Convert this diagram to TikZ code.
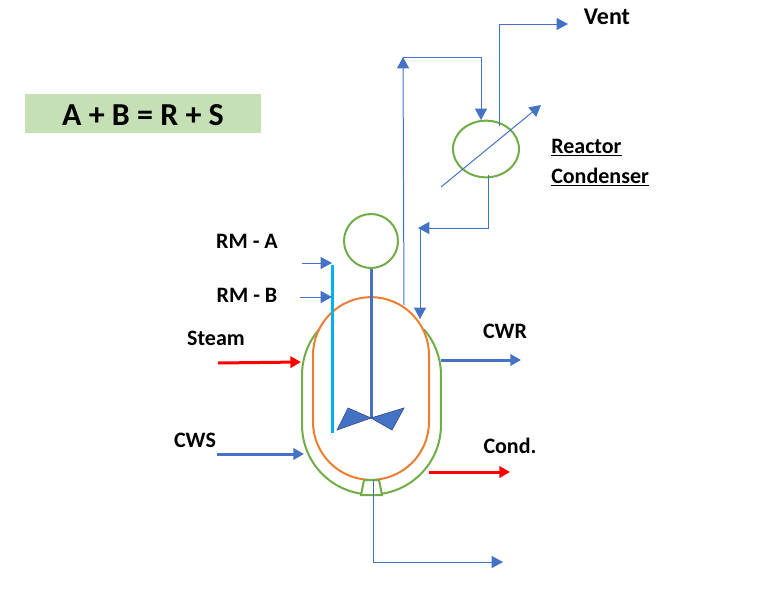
\documentclass[tikz,border=0pt]{standalone}
\usepackage{fontspec}
\setmainfont{Carlito}
\usetikzlibrary{arrows.meta,shapes.geometric}
\definecolor{pipeblue}{HTML}{4472C4}
\definecolor{shellgreen}{HTML}{70AD47}
\definecolor{jacketorange}{HTML}{ED7D31}
\definecolor{feedcyan}{HTML}{00B0F0}
\definecolor{boxgreen}{HTML}{C5E0B4}

\begin{document}
\begin{tikzpicture}[
  x=0.75pt, y=-0.75pt,
  font=\bfseries\fontsize{16.5}{19}\selectfont,
  label/.style = {inner sep=0pt, text=black},
  pipe/.style = {-{Triangle[length=8.5pt,width=9pt]}, draw=pipeblue, line width=0.75pt},
  utility/.style = {-{Triangle[length=8pt,width=8.5pt]}, draw=pipeblue, line width=2.25pt},
  hotline/.style = {-{Triangle[length=8pt,width=8.5pt]}, draw=red, line width=2.25pt},
  vessel/.style = {draw=shellgreen, line width=1.5pt},
  blade/.style = {fill=pipeblue, draw=pipeblue!70!black, line width=0.5pt},
]
  \useasboundingbox (0,0) rectangle (764,596);

  % reaction box
  \node[fill=boxgreen, minimum width=177pt, minimum height=29.5pt, inner sep=0pt,
    font=\bfseries\fontsize{24}{28}\selectfont, text depth=0pt, text height=18pt] (reaction) at (143,113.5) {A + B = R + S};

  % outer shell, jacket and bottom nozzle
  \draw[vessel] (371.5,375) ++(139:52.1pt) coordinate (shellL)
    arc[start angle=139, end angle=180, radius=52.1pt]
    -- ++(0,50) coordinate (shellLow)
    arc[start angle=180, end angle=360, radius=52.1pt]
    -- ++(0,-50)
    arc[start angle=0, end angle=41, radius=52.1pt];
  \node[draw=jacketorange, line width=1.5pt, rectangle, rounded corners=43.5pt,
    minimum width=87pt, minimum height=137pt, inner sep=0pt] (jacket) at (371,388.5) {};
  \draw[vessel, fill=white] (364,480) -- (379,480) -- (382,495) -- (361,495) -- cycle;

  % motor and condenser
  \node[circle, vessel, minimum size=40.5pt, inner sep=0pt] (motor) at (371,241) {};
  \node[ellipse, vessel, minimum width=49.5pt, minimum height=42.5pt, inner sep=0pt] (condenser) at (486,149) {};

  % agitator
  \coordinate (hub) at (371,418);
  \draw[draw=pipeblue, line width=2.25pt] (motor.south) -- (hub);
  \draw[blade] (hub) -- (348,408) -- (337,430) -- cycle;
  \draw[blade] (hub) -- (404,408) -- (392,430) -- cycle;

  % dip pipe
  \coordinate (dipTop) at (332,265);
  \coordinate (dipEnd) at (332,433);
  \draw[draw=feedcyan, line width=2.25pt] (dipTop) -- (dipEnd);

  % labels
  \node[label] (rma) at (247,241) {RM - A};
  \node[label] (rmb) at (247,295) {RM - B};
  \node[label] (steam) at (216,338) {Steam};
  \node[label] (cws) at (195,440) {CWS};
  \node[label] (cwr) at (505,331) {CWR};
  \node[label] (cond) at (510,446) {Cond.};
  \node[label, font=\bfseries\fontsize{18}{20}\selectfont] (vent) at (607,17) {Vent};
  \node[label, anchor=west] (reactor) at (551,148) {\underline{Reactor}};
  \node[label, anchor=west] (condname) at (551,177) {\underline{Condenser}};

  % free ends of the lines
  \coordinate (rmaIn) at (302,263);
  \coordinate (rmaEnd) at (332,263);
  \coordinate (rmbIn) at (300,297);
  \coordinate (rmbEnd) at (332,297);
  \coordinate (steamIn) at (218,363);
  \coordinate (steamEnd) at (301,362);
  \coordinate (cwsIn) at (217,454);
  \coordinate (cwsEnd) at (304,454);
  \coordinate (cwrOut) at (441,360);
  \coordinate (cwrEnd) at (521,360);
  \coordinate (condOut) at (429,472);
  \coordinate (condEnd) at (510,472);
  \coordinate (drain) at (373,480);
  \coordinate (drainTurn) at (373,562);
  \coordinate (drainEnd) at (503,562);
  \coordinate (vapourOut) at (404,305);
  \coordinate (vapourTop) at (403,57);
  \coordinate (vapourTurn) at (481,57);
  \coordinate (vapourEnd) at (481,120);
  \coordinate (ventOut) at (499,126);
  \coordinate (ventTurn) at (499,24);
  \coordinate (ventEnd) at (568,24);
  \coordinate (refluxOut) at (488,175);
  \coordinate (refluxTurn) at (488,228);
  \coordinate (refluxEnd) at (418,228);
  \coordinate (returnTop) at (420,228);
  \coordinate (returnEnd) at (420,319);
  \coordinate (coolIn) at (441,187);
  \coordinate (coolEnd) at (541,105);

  % feed and utility lines
  \draw[pipe] (rmaIn) -- (rmaEnd);
  \draw[pipe] (rmbIn) -- (rmbEnd);
  \draw[hotline] (steamIn) -- (steamEnd);
  \draw[utility] (cwsIn) -- (cwsEnd);
  \draw[utility] (cwrOut) -- (cwrEnd);
  \draw[hotline] (condOut) -- (condEnd);

  % process lines
  \draw[pipe] (drain) -- (drainTurn) -- (drainEnd);
  \draw[pipe] (vapourOut) -- (vapourTop);
  \draw[pipe] (vapourTop) -- (vapourTurn) -- (vapourEnd);
  \draw[pipe] (ventOut) -- (ventTurn) -- (ventEnd);
  \draw[pipe] (refluxOut) -- (refluxTurn) -- (refluxEnd);
  \draw[pipe] (returnTop) -- (returnEnd);
  \draw[pipe] (coolIn) -- (coolEnd);
\end{tikzpicture}
\end{document}
